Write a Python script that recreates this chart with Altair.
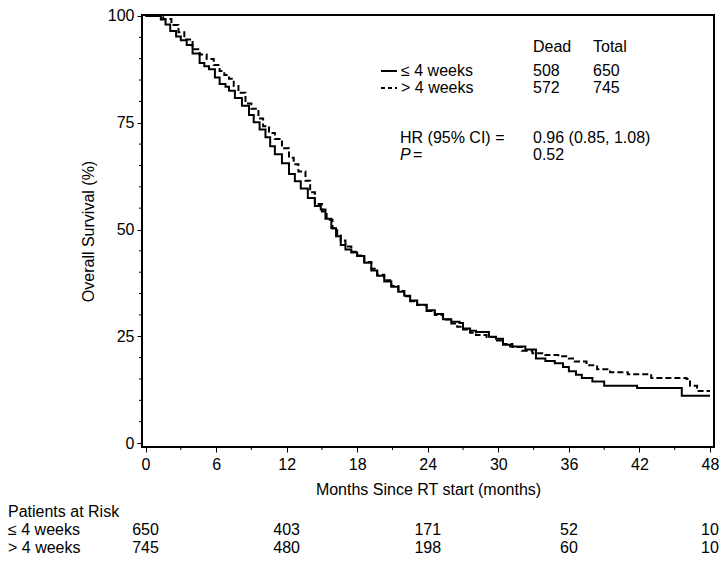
import altair as alt
import pandas as pd

# ---------------- data ----------------
le4_t = [0, 1.0, 1.3, 1.7, 2.1, 2.6, 3.0, 3.5, 4.0, 4.6, 5.0, 5.4, 5.9, 6.3, 6.8, 7.1, 7.6, 8.2,
         8.8, 9.2, 9.7, 10.2, 10.6, 11.0, 11.6, 12.2, 12.7, 13.2, 13.8, 14.4, 14.9, 15.3, 15.8,
         16.2, 16.6, 17.0, 17.5, 18.0, 18.6, 19.2, 19.7, 20.3, 20.9, 21.5, 22.0, 22.5, 23.1,
         23.9, 24.6, 25.3, 26.0, 26.7, 27.0, 27.6, 28.1, 29.2, 29.8, 30.4, 31.0, 32.3, 33.2,
         34.0, 34.8, 35.5, 36.0, 36.6, 37.1, 38.0, 39.0, 41.8, 45.6, 48.0]
le4_s = [100, 100, 99.2, 98.0, 96.5, 95.2, 94.3, 93.2, 91.2, 89.0, 88.2, 87.5, 85.6, 84.1, 83.4,
         82.5, 80.8, 79.0, 76.8, 75.1, 73.4, 71.6, 69.5, 67.6, 65.5, 63.0, 61.3, 59.6, 57.4,
         55.5, 54.7, 52.5, 50.3, 48.4, 46.4, 45.3, 44.6, 43.8, 42.2, 40.4, 39.2, 37.8, 36.6,
         35.4, 34.5, 33.4, 32.4, 31.1, 30.2, 29.0, 28.4, 28.1, 26.8, 26.3, 26.0, 24.9, 24.4,
         23.0, 22.6, 21.9, 19.8, 19.2, 18.7, 17.8, 16.8, 16.0, 15.2, 14.4, 13.4, 12.9, 11.1, 11.1]

gt4_t = [0, 1.2, 1.5, 2.2, 2.8, 3.3, 4.0, 4.6, 5.2, 5.8, 6.3, 6.7, 7.1, 7.5, 7.9, 8.5, 9.0, 9.6,
         10.0, 10.5, 11.0, 11.6, 12.2, 12.6, 13.0, 13.6, 14.0, 14.4, 15.0, 15.4, 15.9, 16.3,
         16.6, 17.0, 17.5, 18.0, 18.6, 19.2, 19.7, 20.3, 20.9, 21.5, 22.0, 22.5, 23.1, 23.9,
         24.6, 25.3, 26.0, 26.5, 27.0, 27.6, 28.1, 29.0, 29.8, 30.4, 31.2, 32.0, 32.9, 34.0,
         35.1, 36.0, 36.5, 37.5, 38.4, 39.5, 41.0, 43.0, 46.0, 46.3, 46.9, 48.0]
gt4_s = [100, 100, 99.3, 97.9, 96.2, 94.5, 92.2, 91.0, 89.9, 88.5, 87.1, 86.2, 85.3, 83.6, 82.0,
         79.5, 78.3, 76.0, 74.2, 72.6, 71.2, 69.0, 66.8, 65.3, 63.6, 61.4, 58.7, 56.0, 54.2,
         52.3, 50.3, 48.6, 47.4, 46.0, 44.8, 43.9, 42.4, 40.8, 39.4, 38.1, 36.8, 35.6, 34.4,
         33.2, 32.3, 30.9, 30.0, 28.9, 28.0, 27.2, 26.6, 25.8, 25.3, 24.8, 24.0, 23.2, 22.5,
         21.6, 21.0, 20.6, 20.3, 19.8, 19.1, 18.2, 17.3, 16.6, 16.1, 15.2, 15.0, 13.4, 12.2, 12.2]

groups = ["≤ 4 weeks", "> 4 weeks"]
dead = ["508", "572"]
total = ["650", "745"]
hr_text = "0.96 (0.85, 1.08)"
p_text = "0.52"

risk_times = [0, 12, 24, 36, 48]
risk_le4 = [650, 403, 171, 52, 10]
risk_gt4 = [745, 480, 198, 60, 10]

x_major = [0, 6, 12, 18, 24, 30, 36, 42, 48]
x_minor = [3, 9, 15, 21, 27, 33, 39, 45]
y_major = [0, 25, 50, 75, 100]
y_minor = [5, 10, 15, 20, 30, 35, 40, 45, 55, 60, 65, 70, 80, 85, 90, 95]

# ---------------- layout ----------------
W, H = 572, 432
FONT = "Liberation Sans"
FS = 16

curves = pd.DataFrame(
    [{"group": groups[0], "t": t, "s": s} for t, s in zip(le4_t, le4_s)]
    + [{"group": groups[1], "t": t, "s": s} for t, s in zip(gt4_t, gt4_s)]
)
risk1 = pd.DataFrame({"t": risk_times, "n": risk_le4})
risk2 = pd.DataFrame({"t": risk_times, "n": risk_gt4})

xscale = alt.Scale(domain=[-0.30, 48.34], nice=False, zero=False)
yscale = alt.Scale(domain=[-0.93, 100.23], nice=False, zero=False)

lines = alt.Chart(curves).mark_line(interpolate="step-after", color="black", strokeWidth=2).encode(
    x=alt.X("t:Q", scale=xscale,
            axis=alt.Axis(values=x_major, title="Months Since RT start (months)", domain=False,
                          tickSize=5, tickWidth=1, tickColor="black", labelPadding=4,
                          labelFontSize=FS, labelFont=FONT, labelColor="black",
                          titleFontSize=FS, titleFont=FONT, titleFontWeight="normal",
                          titleColor="black", titlePadding=9, grid=False)),
    y=alt.Y("s:Q", scale=yscale,
            axis=alt.Axis(values=y_major, title="Overall Survival (%)", domain=False,
                          tickSize=5, tickWidth=1, tickColor="black", labelPadding=3,
                          labelFontSize=FS, labelFont=FONT, labelColor="black",
                          titleFontSize=FS, titleFont=FONT, titleFontWeight="normal",
                          titleColor="black", titlePadding=11, grid=False)),
    strokeDash=alt.StrokeDash("group:N", scale=alt.Scale(domain=groups, range=[[1, 0], [6, 3]]),
                              legend=None),
    detail="group:N",
)

xminor = alt.Chart(pd.DataFrame({"t": x_minor})).mark_rule(color="black", strokeWidth=1).encode(
    x=alt.X("t:Q", scale=xscale), y=alt.value(H), y2=alt.value(H + 3))
yminor = alt.Chart(pd.DataFrame({"s": y_minor})).mark_rule(color="black", strokeWidth=1).encode(
    y=alt.Y("s:Q", scale=yscale), x=alt.value(-3), x2=alt.value(0))


def txt(s, x, y, align="left", style="normal"):
    return alt.Chart(alt.Data(values=[{}])).mark_text(
        text=s, align=align, baseline="middle", font=FONT, fontSize=FS, color="black",
        fontStyle=style).encode(x=alt.value(x), y=alt.value(y))


ann = [
    txt("Dead", 391, 32), txt("Total", 451, 32),
    txt(groups[0], 259, 56), txt(dead[0], 391, 56), txt(total[0], 451, 56),
    txt(groups[1], 259, 73), txt(dead[1], 391, 73), txt(total[1], 451, 73),
    txt("HR (95% CI) =", 258, 123), txt(hr_text, 391, 123),
    txt("P", 258, 140, style="italic"), txt("=", 271, 140), txt(p_text, 391, 140),
    txt("Patients at Risk", -134, 497),
    txt(groups[0], -134, 515), txt(groups[1], -134, 533),
]

leg_solid = alt.Chart(alt.Data(values=[{}])).mark_rule(color="black", strokeWidth=2).encode(
    x=alt.value(239), x2=alt.value(255), y=alt.value(56))
leg_dash = alt.Chart(alt.Data(values=[{}])).mark_rule(color="black", strokeWidth=2,
                                                       strokeDash=[4, 3]).encode(
    x=alt.value(239), x2=alt.value(255), y=alt.value(73))


def risk_row(df, y):
    return alt.Chart(df).mark_text(align="center", baseline="middle", font=FONT, fontSize=FS,
                                   color="black").encode(
        x=alt.X("t:Q", scale=xscale), y=alt.value(y), text="n:Q")


chart = alt.layer(lines, xminor, yminor, leg_solid, leg_dash,
                  risk_row(risk1, 515), risk_row(risk2, 533), *ann).properties(
    width=W, height=H,
    autosize=alt.AutoSizeParams(type="none"),
    padding={"left": 134, "top": 7, "right": 5, "bottom": 110},
    background="white",
).configure_view(stroke="black", strokeWidth=2)

chart.save("out.html", embed_options={"renderer": "svg", "actions": False})
